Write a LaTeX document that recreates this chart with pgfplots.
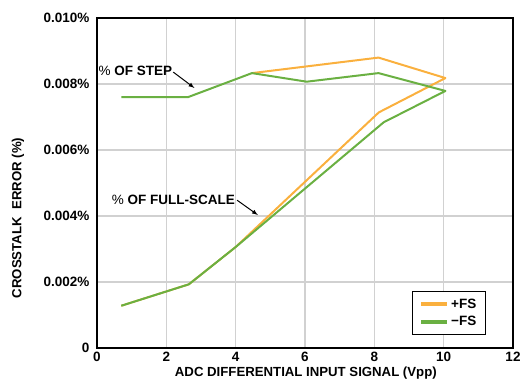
\documentclass[border=0pt]{standalone}
\usepackage{fontspec}
\setmainfont{Liberation Sans}
\usepackage{pgfplots}
\pgfplotsset{compat=1.18}
\definecolor{fsorange}{RGB}{250,176,62}
\definecolor{fsgreen}{RGB}{106,176,66}
\begin{document}
\begin{tikzpicture}
\begin{axis}[
  at={(0pt,0pt)}, anchor=south west,
  scale only axis, width=416pt, height=330pt,
  xmin=0, xmax=12, ymin=0, ymax=0.010,
  xtick={0,2,4,6,8,10,12},
  xticklabels={0,2,4,6,8,10,12},
  ytick={0,0.002,0.004,0.006,0.008,0.010},
  yticklabels={0,0.002\%,0.004\%,0.006\%,0.008\%,0.010\%},
  scaled y ticks=false,
  major tick length=0pt,
  grid=major,
  major grid style={black!18, line width=1.4pt},
  axis line style={black, line width=1.8pt},
  tick label style={font=\fontsize{13.5}{15}\selectfont\bfseries},
  yticklabel style={xshift=-4pt},
  xticklabel style={yshift=-1pt},
  label style={font=\fontsize{13.2}{15}\selectfont\bfseries},
  xlabel={ADC DIFFERENTIAL INPUT SIGNAL (Vpp)},
  ylabel={CROSSTALK\ \ ERROR (\%)},
  xlabel style={at={(axis description cs:0.502,0)}, anchor=center, yshift=-25pt},
  ylabel style={at={(axis description cs:-0.1899,0.394)}, anchor=center},
  legend style={at={(rel axis cs:0.935,0.039)}, anchor=south east,
    draw=black, line width=1.3pt, font=\fontsize{13.5}{15}\selectfont\bfseries,
    inner xsep=7pt, inner ysep=5pt, row sep=3pt},
  legend cell align=left,
  legend image code/.code={\draw[#1, line width=3.5pt] (0pt,0pt) -- (26pt,0pt);},
]
\addplot[fsorange, line width=2pt, line join=round] coordinates {
  (4.47,0.00833) (8.12,0.00880) (10.05,0.00818) (8.13,0.00714)
  (4.0,0.00306) (2.65,0.00193) (0.70,0.00128)
};
\addlegendentry{+FS}
\addplot[fsgreen, line width=2pt, line join=round] coordinates {
  (0.70,0.00760) (2.62,0.00760) (4.47,0.00833) (6.05,0.00807)
  (8.12,0.00833) (10.05,0.00779) (8.27,0.00684)
  (4.0,0.00306) (2.65,0.00193) (0.70,0.00128)
};
\addlegendentry{−FS}
\node[anchor=east, inner sep=0pt, font=\fontsize{13.5}{15}\selectfont] at (axis cs:2.17,0.00840) {\%\ \textbf{OF STEP}};
\draw[-latex, line width=1pt] (axis cs:2.20,0.00836) -- (axis cs:2.81,0.00788);
\node[anchor=east, inner sep=0pt, font=\fontsize{13.5}{15}\selectfont] at (axis cs:3.98,0.00448) {\%\ \textbf{OF FULL-SCALE}};
\draw[-latex, line width=1pt] (axis cs:4.04,0.00448) -- (axis cs:4.64,0.00403);
\end{axis}
\pgfresetboundingbox
\path[use as bounding box] (-97pt,-40pt) rectangle (425pt,348pt);
\end{tikzpicture}
\end{document}
